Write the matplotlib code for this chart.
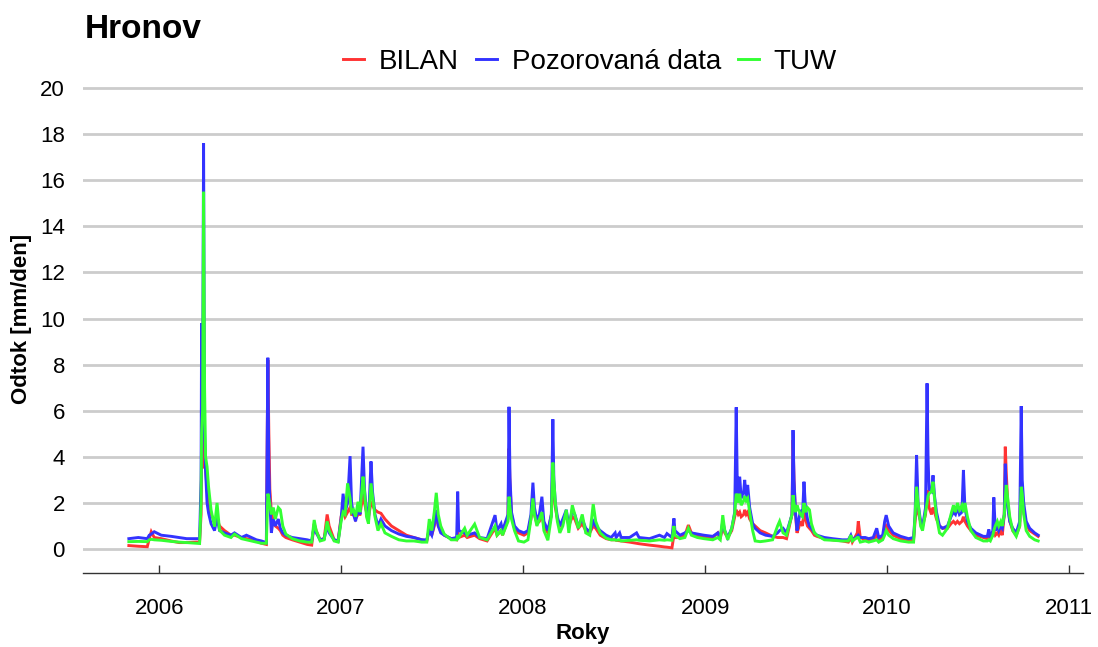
import matplotlib
matplotlib.use("Agg")
import matplotlib.pyplot as plt
import matplotlib.dates as mdates
import pandas as pd

plt.rcParams['font.family'] = ['Liberation Sans', 'DejaVu Sans']

# Daily runoff at Hronov (mm/day): breakpoints of the hydrographs
dates = [
    "2005-11-01", "2005-11-20", "2005-12-08", "2005-12-12", "2005-12-16", "2005-12-22",
    "2006-01-05", "2006-01-25", "2006-02-10", "2006-02-25", "2006-03-15", "2006-03-23",
    "2006-03-26", "2006-03-27", "2006-03-29", "2006-03-31", "2006-04-02", "2006-04-04",
    "2006-04-07", "2006-04-10", "2006-04-15", "2006-04-22", "2006-04-27", "2006-05-02",
    "2006-05-12", "2006-05-25", "2006-06-01", "2006-06-15", "2006-06-25", "2006-07-05",
    "2006-07-15", "2006-07-25", "2006-08-04", "2006-08-07", "2006-08-09", "2006-08-11",
    "2006-08-14", "2006-08-18", "2006-08-22", "2006-08-28", "2006-09-01", "2006-09-06",
    "2006-09-12", "2006-09-25", "2006-10-10", "2006-10-25", "2006-11-03", "2006-11-08",
    "2006-11-12", "2006-11-20", "2006-11-28", "2006-12-04", "2006-12-08", "2006-12-18",
    "2006-12-26", "2007-01-01", "2007-01-05", "2007-01-09", "2007-01-14", "2007-01-19",
    "2007-01-22", "2007-01-26", "2007-01-30", "2007-02-04", "2007-02-08", "2007-02-14",
    "2007-02-17", "2007-02-21", "2007-02-25", "2007-03-02", "2007-03-05", "2007-03-10",
    "2007-03-16", "2007-03-22", "2007-03-30", "2007-04-12", "2007-04-27", "2007-05-12",
    "2007-05-27", "2007-06-12", "2007-06-22", "2007-06-27", "2007-07-02", "2007-07-07",
    "2007-07-11", "2007-07-15", "2007-07-20", "2007-07-27", "2007-08-10", "2007-08-21",
    "2007-08-23", "2007-08-25", "2007-09-06", "2007-09-11", "2007-09-26", "2007-10-06",
    "2007-10-21", "2007-11-06", "2007-11-10", "2007-11-18", "2007-11-21", "2007-12-02",
    "2007-12-04", "2007-12-06", "2007-12-09", "2007-12-15", "2007-12-23", "2008-01-03",
    "2008-01-11", "2008-01-17", "2008-01-21", "2008-01-24", "2008-01-29", "2008-02-03",
    "2008-02-08", "2008-02-12", "2008-02-20", "2008-02-27", "2008-03-01", "2008-03-03",
    "2008-03-06", "2008-03-10", "2008-03-15", "2008-03-21", "2008-03-28", "2008-04-02",
    "2008-04-09", "2008-04-14", "2008-04-21", "2008-04-29", "2008-05-06", "2008-05-14",
    "2008-05-21", "2008-05-26", "2008-06-04", "2008-06-16", "2008-06-26", "2008-07-04",
    "2008-07-06", "2008-07-13", "2008-07-16", "2008-08-02", "2008-08-16", "2008-08-21",
    "2008-09-11", "2008-10-01", "2008-10-11", "2008-10-16", "2008-10-26", "2008-10-30",
    "2008-11-01", "2008-11-11", "2008-11-21", "2008-11-28", "2008-12-04", "2008-12-16",
    "2008-12-29", "2009-01-16", "2009-01-26", "2009-01-31", "2009-02-05", "2009-02-09",
    "2009-02-15", "2009-02-23", "2009-03-01", "2009-03-04", "2009-03-06", "2009-03-08",
    "2009-03-11", "2009-03-14", "2009-03-19", "2009-03-21", "2009-03-24", "2009-03-27",
    "2009-03-31", "2009-04-06", "2009-04-11", "2009-04-21", "2009-05-02", "2009-05-16",
    "2009-05-26", "2009-05-30", "2009-06-06", "2009-06-13", "2009-06-24", "2009-06-26",
    "2009-06-28", "2009-07-01", "2009-07-04", "2009-07-07", "2009-07-11", "2009-07-15",
    "2009-07-18", "2009-07-21", "2009-07-25", "2009-07-29", "2009-08-02", "2009-08-08",
    "2009-08-13", "2009-08-28", "2009-09-13", "2009-10-03", "2009-10-15", "2009-10-20",
    "2009-10-23", "2009-11-02", "2009-11-04", "2009-11-08", "2009-11-18", "2009-11-25",
    "2009-12-04", "2009-12-11", "2009-12-15", "2009-12-23", "2009-12-27", "2009-12-30",
    "2010-01-04", "2010-01-13", "2010-01-28", "2010-02-13", "2010-02-23", "2010-02-26",
    "2010-03-01", "2010-03-04", "2010-03-09", "2010-03-13", "2010-03-19", "2010-03-22",
    "2010-03-24", "2010-03-26", "2010-03-31", "2010-04-03", "2010-04-06", "2010-04-10",
    "2010-04-16", "2010-04-22", "2010-05-02", "2010-05-09", "2010-05-14", "2010-05-18",
    "2010-05-22", "2010-05-26", "2010-05-31", "2010-06-03", "2010-06-06", "2010-06-11",
    "2010-06-18", "2010-06-28", "2010-07-13", "2010-07-21", "2010-07-24", "2010-07-27",
    "2010-08-01", "2010-08-03", "2010-08-06", "2010-08-10", "2010-08-13", "2010-08-17",
    "2010-08-20", "2010-08-24", "2010-08-26", "2010-08-28", "2010-08-31", "2010-09-04",
    "2010-09-10", "2010-09-17", "2010-09-24", "2010-09-27", "2010-09-29", "2010-10-02",
    "2010-10-07", "2010-10-14", "2010-10-24", "2010-10-31",
]

bilan = [
    0.15, 0.12, 0.10, 0.45, 0.75, 0.50,
    0.45, 0.35, 0.28, 0.28, 0.30, 0.30,
    1.50, 4.00, 3.50, 6.00, 4.50, 3.50,
    2.60, 2.00, 1.50, 1.20, 1.30, 1.00,
    0.80, 0.60, 0.60, 0.50, 0.45, 0.40,
    0.35, 0.25, 0.20, 8.20, 5.00, 2.60,
    1.60, 1.20, 1.00, 0.90, 0.80, 0.60,
    0.50, 0.40, 0.30, 0.20, 0.17, 1.10,
    0.80, 0.40, 0.45, 1.50, 1.00, 0.40,
    0.35, 1.40, 1.70, 1.40, 1.60, 1.80,
    1.50, 1.50, 1.30, 1.50, 1.50, 2.40,
    2.00, 1.60, 1.40, 2.00, 1.90, 1.70,
    1.60, 1.55, 1.30, 1.00, 0.80, 0.60,
    0.50, 0.40, 0.35, 0.90, 0.60, 1.00,
    1.50, 1.00, 0.80, 0.60, 0.45, 0.40,
    0.80, 0.50, 0.60, 0.50, 0.60, 0.45,
    0.35, 0.90, 0.60, 0.80, 0.60, 1.30,
    4.36, 2.80, 1.50, 0.90, 0.70, 0.60,
    0.70, 1.30, 1.90, 1.50, 1.10, 1.20,
    1.50, 1.00, 0.70, 1.50, 3.50, 2.50,
    1.80, 1.30, 1.00, 1.20, 1.50, 1.00,
    1.40, 1.30, 0.90, 1.10, 0.80, 0.70,
    1.00, 0.90, 0.60, 0.45, 0.40, 0.40,
    0.38, 0.36, 0.35, 0.30, 0.25, 0.23,
    0.17, 0.12, 0.09, 0.08, 0.05, 0.60,
    0.50, 0.50, 0.60, 1.04, 0.70, 0.60,
    0.50, 0.50, 0.70, 0.45, 1.00, 0.70,
    0.50, 0.80, 1.40, 1.70, 1.60, 1.50,
    1.60, 1.40, 1.50, 1.70, 1.50, 1.60,
    1.30, 1.10, 1.00, 0.80, 0.70, 0.55,
    0.50, 0.50, 0.50, 0.45, 1.50, 4.73,
    3.00, 1.50, 0.70, 0.90, 1.20, 1.00,
    1.60, 1.30, 1.00, 0.90, 0.80, 0.60,
    0.55, 0.45, 0.40, 0.35, 0.30, 0.50,
    0.30, 0.70, 1.20, 0.50, 0.40, 0.35,
    0.40, 0.60, 0.40, 0.50, 0.80, 1.00,
    0.80, 0.60, 0.45, 0.40, 0.40, 1.20,
    2.00, 1.60, 1.20, 1.00, 1.50, 2.56,
    2.30, 1.80, 1.50, 1.80, 1.60, 1.30,
    1.00, 0.90, 0.90, 1.10, 1.20, 1.10,
    1.20, 1.10, 1.20, 1.40, 1.20, 1.00,
    0.80, 0.60, 0.50, 0.45, 0.50, 0.45,
    0.60, 0.80, 0.60, 0.70, 0.60, 0.80,
    0.60, 1.50, 4.44, 3.30, 2.00, 1.20,
    0.80, 0.60, 1.00, 3.00, 2.50, 1.60,
    1.10, 0.80, 0.65, 0.55,
]

pozorovana = [
    0.45, 0.50, 0.45, 0.60, 0.65, 0.75,
    0.60, 0.55, 0.50, 0.45, 0.45, 0.45,
    3.00, 9.80, 6.50, 17.60, 5.00, 3.40,
    2.00, 1.56, 1.10, 0.80, 1.40, 0.80,
    0.70, 0.60, 0.70, 0.50, 0.60, 0.50,
    0.40, 0.35, 0.28, 8.30, 3.50, 2.00,
    0.70, 1.30, 1.00, 1.30, 0.90, 0.70,
    0.60, 0.50, 0.45, 0.40, 0.35, 1.00,
    0.70, 0.40, 0.45, 1.00, 0.70, 0.40,
    0.35, 1.30, 2.40, 1.60, 2.00, 4.03,
    2.00, 1.50, 1.20, 1.80, 1.50, 4.44,
    2.60, 1.60, 1.20, 3.80, 2.50, 1.50,
    1.00, 1.30, 1.00, 0.80, 0.65, 0.55,
    0.50, 0.40, 0.40, 0.80, 0.60, 1.10,
    1.70, 1.00, 0.70, 0.60, 0.45, 0.50,
    2.49, 0.80, 0.70, 0.60, 0.70, 0.50,
    0.45, 1.47, 0.80, 1.10, 0.80, 1.50,
    6.17, 3.10, 1.60, 1.00, 0.80, 0.70,
    0.80, 1.50, 2.88, 1.80, 1.26, 1.50,
    2.27, 1.20, 0.80, 1.50, 5.63, 3.00,
    2.00, 1.40, 1.00, 1.30, 1.70, 1.00,
    1.70, 1.50, 1.00, 1.30, 0.90, 0.75,
    1.20, 1.00, 0.80, 0.60, 0.50, 0.70,
    0.50, 0.70, 0.50, 0.50, 0.70, 0.50,
    0.45, 0.60, 0.50, 0.67, 0.50, 1.33,
    0.80, 0.60, 0.70, 0.80, 0.70, 0.65,
    0.60, 0.55, 0.70, 0.50, 1.20, 0.80,
    0.50, 0.90, 1.60, 6.15, 3.00, 2.20,
    3.14, 2.20, 2.50, 3.00, 2.20, 2.78,
    1.80, 1.10, 0.90, 0.70, 0.60, 0.55,
    0.70, 0.80, 0.90, 0.70, 1.50, 5.16,
    3.00, 1.60, 0.80, 1.20, 1.70, 1.40,
    2.92, 1.80, 1.30, 1.00, 0.90, 0.70,
    0.60, 0.50, 0.45, 0.40, 0.40, 0.60,
    0.40, 0.55, 0.60, 0.50, 0.50, 0.45,
    0.50, 0.90, 0.50, 0.60, 1.20, 1.47,
    1.00, 0.70, 0.55, 0.45, 0.50, 1.50,
    4.08, 2.00, 1.20, 0.97, 1.80, 7.19,
    4.00, 2.60, 2.50, 3.20, 2.30, 1.60,
    1.00, 0.90, 1.00, 1.40, 1.60, 1.50,
    1.80, 1.50, 1.60, 3.43, 1.80, 1.20,
    0.90, 0.70, 0.55, 0.55, 0.85, 0.50,
    0.80, 2.24, 0.80, 1.00, 0.80, 1.00,
    0.90, 1.50, 3.70, 2.50, 1.80, 1.20,
    0.90, 0.70, 1.20, 6.20, 3.00, 2.00,
    1.20, 0.90, 0.70, 0.60,
]

tuw = [
    0.32, 0.33, 0.32, 0.40, 0.42, 0.40,
    0.38, 0.33, 0.30, 0.28, 0.25, 0.24,
    2.00, 5.00, 6.00, 15.50, 7.00, 4.00,
    3.57, 2.70, 1.70, 0.97, 2.00, 0.82,
    0.60, 0.50, 0.65, 0.45, 0.40, 0.35,
    0.30, 0.25, 0.25, 2.40, 2.20, 1.90,
    1.50, 1.80, 1.30, 1.80, 1.70, 1.00,
    0.65, 0.45, 0.35, 0.30, 0.30, 1.26,
    0.80, 0.35, 0.40, 1.20, 0.80, 0.35,
    0.30, 1.20, 1.60, 1.50, 2.85, 2.20,
    1.60, 1.70, 1.40, 2.05, 1.60, 3.14,
    2.50, 1.40, 1.10, 2.85, 2.30, 1.40,
    0.80, 1.10, 0.70, 0.55, 0.40, 0.35,
    0.35, 0.30, 0.30, 1.30, 0.80, 1.60,
    2.44, 1.50, 1.00, 0.65, 0.40, 0.40,
    0.60, 0.50, 0.90, 0.60, 1.08, 0.50,
    0.40, 1.00, 0.60, 0.80, 0.60, 1.20,
    2.27, 1.80, 1.30, 0.80, 0.35, 0.30,
    0.40, 1.30, 2.20, 1.50, 1.00, 1.30,
    1.60, 0.80, 0.38, 1.40, 3.75, 3.00,
    2.00, 1.20, 0.70, 1.00, 1.70, 0.70,
    1.90, 1.50, 0.90, 1.50, 0.70, 0.60,
    1.95, 1.20, 0.70, 0.47, 0.40, 0.40,
    0.38, 0.40, 0.35, 0.38, 0.40, 0.38,
    0.35, 0.40, 0.38, 0.40, 0.38, 1.00,
    0.60, 0.45, 0.50, 0.90, 0.60, 0.50,
    0.45, 0.40, 0.50, 0.40, 1.47, 0.80,
    0.40, 0.90, 1.55, 2.40, 2.30, 2.00,
    2.40, 1.90, 2.10, 2.30, 2.10, 2.20,
    1.60, 0.80, 0.35, 0.32, 0.35, 0.40,
    1.00, 1.20, 0.70, 0.60, 1.50, 2.34,
    2.00, 1.60, 1.90, 1.70, 1.50, 1.40,
    2.00, 1.60, 1.80, 1.70, 1.10, 0.70,
    0.60, 0.40, 0.38, 0.35, 0.35, 0.60,
    0.35, 0.50, 0.50, 0.30, 0.35, 0.30,
    0.35, 0.40, 0.30, 0.40, 0.60, 0.80,
    0.60, 0.45, 0.35, 0.30, 0.30, 1.50,
    2.70, 2.00, 1.00, 0.80, 1.60, 2.00,
    2.30, 2.40, 2.50, 2.92, 2.20, 1.40,
    0.70, 0.60, 0.90, 1.50, 1.90, 1.60,
    2.00, 1.70, 1.90, 1.60, 2.00, 1.40,
    0.80, 0.50, 0.35, 0.35, 0.40, 0.35,
    0.60, 0.80, 1.00, 1.20, 1.00, 1.20,
    1.00, 1.50, 2.20, 2.78, 2.20, 1.40,
    0.80, 0.55, 1.00, 2.70, 2.40, 1.50,
    0.80, 0.55, 0.40, 0.35,
]

series_names = ["BILAN", "Pozorovaná data", "TUW"]
series_colors = ["#ff3333", "#3333ff", "#33ff33"]
y_ticks = list(range(0, 21, 2))

assert len(dates) == len(bilan) == len(pozorovana) == len(tuw)
t = pd.to_datetime(dates)

fig = plt.figure(figsize=(10.98, 6.47), dpi=100)
ax = fig.add_axes([83 / 1098, 74 / 647, 1000 / 1098, 508 / 647])

handles = []
for name, values, color in zip(series_names, [bilan, pozorovana, tuw], series_colors):
    h, = ax.plot(t, values, color=color, lw=2.1, label=name, zorder=3,
                 solid_joinstyle='miter')
    handles.append(h)

ax.set_xlim(pd.Timestamp("2005-08-01"), pd.Timestamp("2011-01-29"))
ax.set_ylim(-1.04, 21.0)

ax.set_yticks(y_ticks)
ax.set_yticklabels([str(v) for v in y_ticks])
ax.yaxis.grid(True, color="#cccccc", lw=2.0)
ax.xaxis.grid(False)
ax.set_axisbelow(True)

ax.xaxis.set_major_locator(mdates.YearLocator())
ax.xaxis.set_major_formatter(mdates.DateFormatter("%Y"))

for side in ["left", "right", "top"]:
    ax.spines[side].set_visible(False)
ax.spines["bottom"].set_color("#333333")
ax.spines["bottom"].set_linewidth(1.0)

ax.tick_params(axis="y", length=0, pad=13, labelsize=16, labelcolor="black")
ax.tick_params(axis="x", direction="in", length=6, width=1.0, color="#333333",
               pad=18, labelsize=16, labelcolor="black")

fig.text(85 / 1098, 1 - 38 / 647, "Hronov", ha="left", va="baseline",
         fontsize=24, fontweight="bold")
fig.text(583 / 1098, 1 - 633 / 647, "Roky", ha="center", va="center",
         fontsize=16, fontweight="bold")
fig.text(22 / 1098, 1 - 319 / 647, "Odtok [mm/den]", ha="center", va="center",
         rotation=90, fontsize=16, fontweight="bold")

fig.legend(handles, series_names, loc="center", ncol=3, frameon=False,
           bbox_to_anchor=(590 / 1098, 1 - 62 / 647), fontsize=20,
           handlelength=0.75, handletextpad=0.55, columnspacing=0.6)

fig.savefig("out.png", dpi=100)
